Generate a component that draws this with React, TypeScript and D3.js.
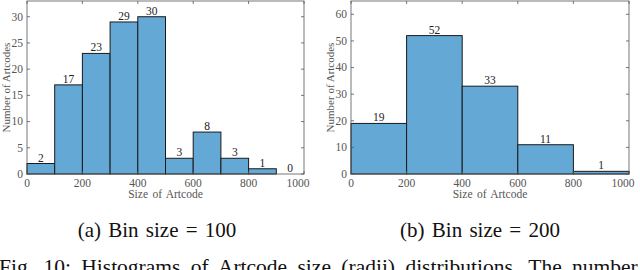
import React from "react";
import * as d3 from "d3";

// bin edges and counts
const binsA = [0, 100, 200, 300, 400, 500, 600, 700, 800, 900, 1000];
const countsA = [2, 17, 23, 29, 30, 3, 8, 3, 1, 0];
const ticksA = [0, 5, 10, 15, 20, 25, 30];

const binsB = [0, 200, 400, 600, 800, 1000];
const countsB = [19, 52, 33, 11, 1];
const ticksB = [0, 10, 20, 30, 40, 50, 60];

const xTicks = [0, 200, 400, 600, 800, 1000];

const serif = "'Liberation Serif', 'Times New Roman', 'DejaVu Serif', serif";
const axisColor = "#555";

interface HistProps {
  left: number;
  right: number;
  bins: number[];
  counts: number[];
  yTicks: number[];
  yMax: number;
  yLabelX: number;
}

const Hist = ({ left, right, bins, counts, yTicks, yMax, yLabelX }: HistProps) => {
  const top = 1;
  const bottom = 174;
  const x = d3.scaleLinear().domain([0, 1000]).range([left, right]);
  const y = d3.scaleLinear().domain([0, yMax]).range([bottom, top]);
  const tickLen = 3;

  return (
    <g>
      {counts.map((c, i) => (
        <rect
          key={i}
          x={x(bins[i])}
          y={y(c)}
          width={x(bins[i + 1]) - x(bins[i])}
          height={bottom - y(c)}
          fill="rgb(100,169,214)"
          stroke="#1a1a1a"
          strokeWidth={1}
        />
      ))}
      {counts.map((c, i) => (
        <text
          key={"l" + i}
          x={(x(bins[i]) + x(bins[i + 1])) / 2}
          y={y(c) - 2}
          textAnchor="middle"
          fontSize={11.5}
          style={{ fontFamily: serif }}
          fill="#222"
        >
          {c}
        </text>
      ))}
      <rect x={left} y={top} width={right - left} height={bottom - top} fill="none" stroke={axisColor} strokeWidth={0.8} />
      {xTicks.map((t, i) => (
        <g key={"x" + t}>
          <line x1={x(t)} x2={x(t)} y1={bottom} y2={bottom - tickLen} stroke={axisColor} strokeWidth={0.8} />
          <line x1={x(t)} x2={x(t)} y1={top} y2={top + tickLen} stroke={axisColor} strokeWidth={0.8} />
          <text
            x={x(t) + (i === xTicks.length - 1 ? -6 : 0)}
            y={bottom + 13}
            textAnchor="middle"
            fontSize={11.5}
            style={{ fontFamily: serif }}
            fill={axisColor}
          >
            {t}
          </text>
        </g>
      ))}
      {yTicks.map((t) => (
        <g key={"y" + t}>
          <line x1={left} x2={left + tickLen} y1={y(t)} y2={y(t)} stroke={axisColor} strokeWidth={0.8} />
          <line x1={right} x2={right - tickLen} y1={y(t)} y2={y(t)} stroke={axisColor} strokeWidth={0.8} />
          <text x={left - 4} y={y(t) + 3.8} textAnchor="end" fontSize={11.5} style={{ fontFamily: serif }} fill={axisColor}>
            {t}
          </text>
        </g>
      ))}
      <text
        x={(left + right) / 2}
        y={bottom + 24}
        textAnchor="middle"
        fontSize={11.5}
        wordSpacing={1.5}
        style={{ fontFamily: serif }}
        fill={axisColor}
      >
        Size of Artcode
      </text>
      <text
        transform={`translate(${yLabelX}, ${(top + bottom) / 2}) rotate(-90)`}
        textAnchor="middle"
        fontSize={11}
        style={{ fontFamily: serif }}
        fill={axisColor}
      >
        Number of Artcodes
      </text>
    </g>
  );
};

const App = () => {
  return (
    <svg width={640} height={270} style={{ position: "absolute", left: 0, top: 0, background: "#fff" }}>
      <Hist left={27} right={304} bins={binsA} counts={countsA} yTicks={ticksA} yMax={33} yLabelX={10} />
      <Hist left={351} right={629} bins={binsB} counts={countsB} yTicks={ticksB} yMax={65} yLabelX={334} />
      <text x={157} y={236.5} textAnchor="middle" fontSize={21} wordSpacing={2} style={{ fontFamily: serif }} fill="#111">
        (a) Bin size = 100
      </text>
      <text x={480} y={236.5} textAnchor="middle" fontSize={21} wordSpacing={2} style={{ fontFamily: serif }} fill="#111">
        (b) Bin size = 200
      </text>
      <text x={-1} y={274} fontSize={21.5} wordSpacing={5} style={{ fontFamily: serif }} fill="#111">
        Fig. 10: Histograms of Artcode size (radii) distributions. The number
      </text>
    </svg>
  );
};

export default App;
